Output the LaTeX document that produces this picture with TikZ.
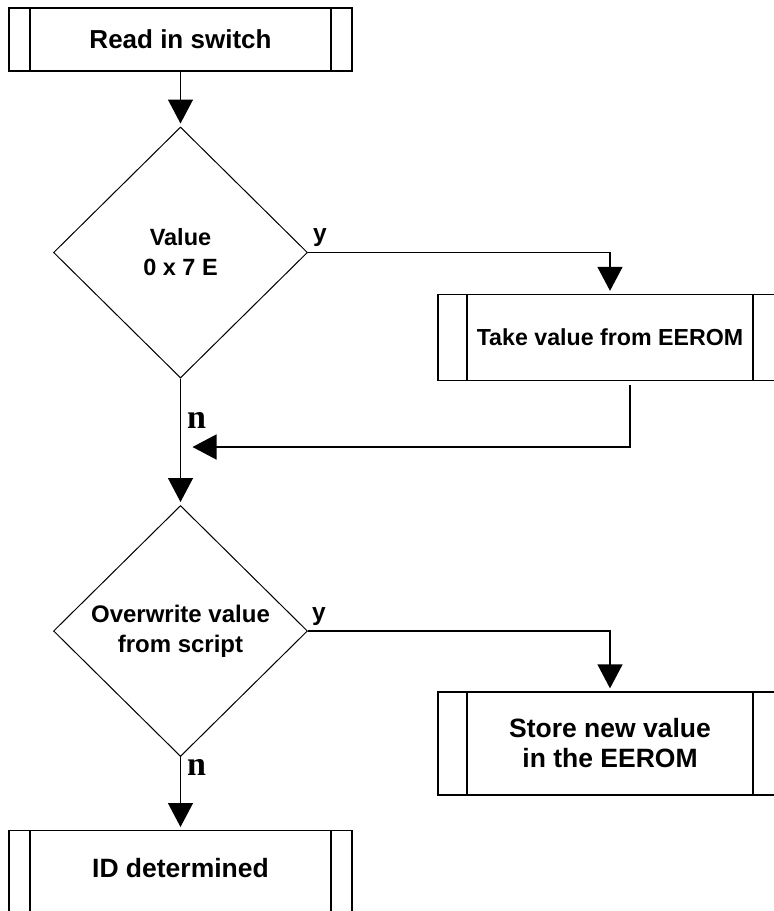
\documentclass[tikz,border=0pt]{standalone}
\usepackage{fontspec}
\setmainfont{Liberation Sans}
\newfontfamily\branchserif{Liberation Serif}
\usetikzlibrary{shapes.geometric,arrows.meta}
\begin{document}
\begin{tikzpicture}[x=1pt,y=-1pt,
  every node/.style={font=\fontsize{24.5}{30}\selectfont\bfseries, align=center, inner sep=0pt},
  txt/.style={font=\fontsize{#1}{30}\selectfont\bfseries},
  procbox/.style={draw, line width=1.3pt, rectangle,
    path picture={
      \draw[line width=1.3pt] ([xshift=#1]path picture bounding box.north west) -- ([xshift=#1]path picture bounding box.south west);
      \draw[line width=1.3pt] ([xshift=-#1]path picture bounding box.north east) -- ([xshift=-#1]path picture bounding box.south east);
    }},
  procbox/.default=21pt,
  decision/.style={draw, diamond, line width=1pt, minimum width=254pt, minimum height=251pt, inner sep=0pt},
  flow/.style={draw, line width=1.3pt, -{Triangle[width=25pt,length=24pt]}, shorten >=3pt},
  branch/.style={anchor=base west, inner sep=0pt},
  nlabel/.style={anchor=base west, inner sep=0pt, font=\branchserif\bfseries\fontsize{34}{34}\selectfont}
]
\useasboundingbox (0,0) rectangle (774,911);
\clip (0,0) rectangle (774,911);
\fill[white] (0,0) rectangle (774,911);

% process boxes and decisions
\node[procbox, txt=26, minimum width=343pt, minimum height=63pt] (read) at (180.5,39.5) {Read in switch};
\node[decision, txt=23.5] (val) at (180.5,252.5) {Value\\0 x 7 E};
\node[procbox=29pt, txt=23.2, minimum width=344pt, minimum height=86pt] (take) at (610,337.5) {Take value from EEROM};
\node[decision, txt=24] (over) at (180.5,631) {Overwrite value\\from script};
\node[procbox=29pt, txt=26.5, minimum width=344pt, minimum height=103pt] (store) at (610,743.5) {Store new value\\in the EEROM};
\node[procbox, minimum width=343pt, minimum height=100pt, anchor=north] (iddet) at (180.5,830) {};
\node[txt=26.5] (idtext) at (180.5,868) {ID determined};

% connectors
\coordinate (merge) at (180.5,447);
\draw[flow] (read.south) -- (val.north);
\draw[flow] (val.east) -| (take.north);
\draw[flow, shorten <=4pt, shorten >=12pt] ([xshift=20pt]take.south) |- (merge);
\draw[flow] (val.south) -- (over.north);
\draw[flow] (over.east) -| (store.north);
\draw[flow] (over.south) -- (iddet.north);

% branch labels
\node[branch] (y1) at (313,241) {y};
\node[branch] (y2) at (312,620) {y};
\node[nlabel] (n1) at (187,428) {n};
\node[nlabel] (n2) at (187,775) {n};
\end{tikzpicture}
\end{document}
